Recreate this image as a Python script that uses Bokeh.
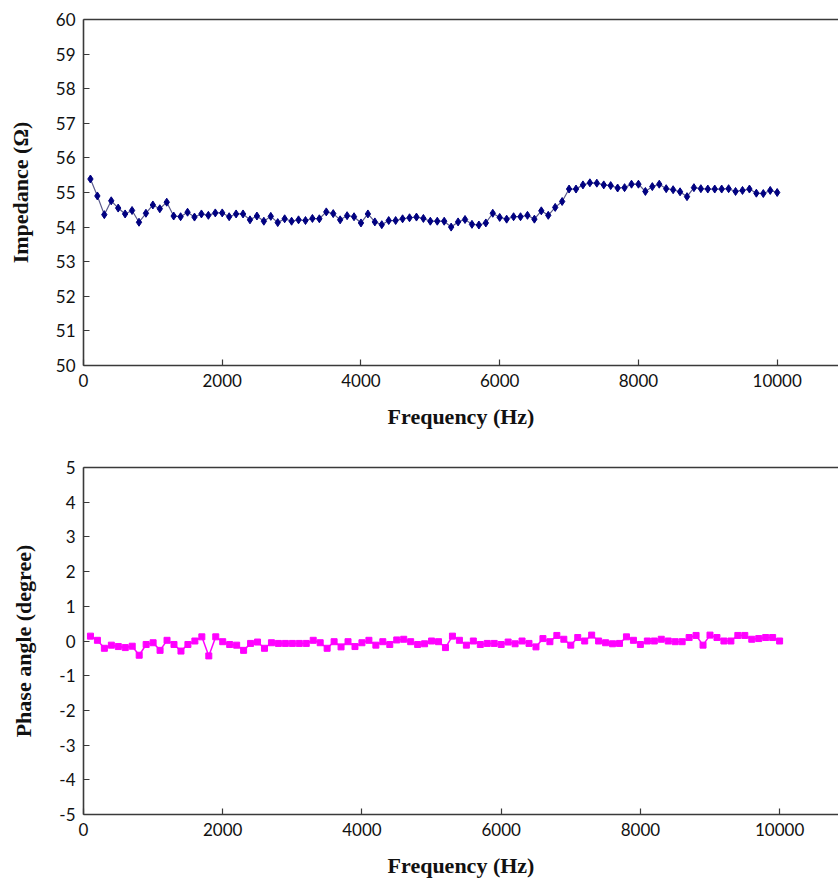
from bokeh.plotting import figure
from bokeh.layouts import column
from bokeh.models import LinearAxis, Range1d, FixedTicker
from bokeh.embed import file_html
from bokeh.resources import INLINE

freq = list(range(100, 10100, 100))

impedance = [
    55.39, 54.90, 54.36, 54.76, 54.55, 54.38, 54.48, 54.14, 54.40, 54.64,
    54.53, 54.72, 54.32, 54.30, 54.43, 54.29, 54.38, 54.34, 54.41, 54.41,
    54.30, 54.38, 54.38, 54.21, 54.32, 54.17, 54.31, 54.13, 54.24, 54.17,
    54.21, 54.19, 54.25, 54.24, 54.44, 54.39, 54.21, 54.33, 54.30, 54.12,
    54.38, 54.15, 54.07, 54.19, 54.19, 54.24, 54.27, 54.29, 54.25, 54.17,
    54.17, 54.17, 54.00, 54.15, 54.22, 54.08, 54.06, 54.12, 54.40, 54.28,
    54.23, 54.30, 54.30, 54.34, 54.23, 54.47, 54.34, 54.57, 54.74, 55.10,
    55.10, 55.22, 55.28, 55.27, 55.22, 55.20, 55.13, 55.14, 55.24, 55.24,
    55.03, 55.17, 55.24, 55.11, 55.08, 55.02, 54.88, 55.14, 55.11, 55.10,
    55.10, 55.10, 55.11, 55.03, 55.06, 55.10, 54.98, 54.97, 55.06, 55.00,
]

phase = [
    0.14, 0.02, -0.21, -0.12, -0.16, -0.19, -0.15, -0.41, -0.10, -0.05,
    -0.27, 0.02, -0.10, -0.29, -0.10, 0.00, 0.12, -0.43, 0.12, -0.02,
    -0.10, -0.12, -0.27, -0.07, -0.03, -0.21, -0.05, -0.07, -0.07, -0.07,
    -0.07, -0.07, 0.02, -0.05, -0.21, -0.02, -0.17, -0.02, -0.16, -0.05,
    0.02, -0.12, -0.02, -0.10, 0.03, 0.05, -0.02, -0.10, -0.08, 0.00,
    -0.02, -0.19, 0.14, 0.02, -0.12, 0.00, -0.10, -0.07, -0.07, -0.10,
    -0.03, -0.08, 0.00, -0.07, -0.17, 0.07, -0.02, 0.16, 0.05, -0.12,
    0.10, 0.00, 0.17, 0.00, -0.05, -0.08, -0.07, 0.12, 0.02, -0.10,
    0.00, 0.00, 0.05, 0.00, -0.02, -0.02, 0.10, 0.16, -0.12, 0.17,
    0.10, 0.00, 0.00, 0.16, 0.16, 0.05, 0.07, 0.10, 0.10, 0.00,
]

x_ticks = [0, 2000, 4000, 6000, 8000, 10000]
imp_ticks = list(range(50, 61))
phase_ticks = list(range(-5, 6))

AX_COLOR = "#3a3a3a"
TICK_FONT = "Lato"
TITLE_FONT = "Liberation Serif"


def style_axes(p, xlabel, ylabel, yticks):
    for ax in p.xaxis + p.yaxis:
        ax.axis_line_color = AX_COLOR
        ax.axis_line_width = 1.6
        ax.major_tick_line_color = AX_COLOR
        ax.major_tick_line_width = 1.2
        ax.major_tick_in = 6
        ax.major_tick_out = 0
        ax.minor_tick_line_color = None
        ax.major_label_text_font = TICK_FONT
        ax.major_label_text_font_size = "17px"
        ax.major_label_text_color = "#111111"
        ax.major_label_standoff = 8
        ax.axis_label_text_font = TITLE_FONT
        ax.axis_label_text_font_style = "bold"
        ax.axis_label_text_font_size = "22px"
        ax.axis_label_text_color = "#111111"
    p.xaxis.ticker = FixedTicker(ticks=x_ticks)
    p.yaxis.ticker = FixedTicker(ticks=yticks)
    p.yaxis.major_label_overrides = {t: str(t) for t in yticks}
    p.xaxis.axis_label = xlabel
    p.yaxis.axis_label = ylabel
    p.xaxis.axis_label_standoff = 14
    p.yaxis.axis_label_standoff = 20
    p.xgrid.grid_line_color = None
    p.ygrid.grid_line_color = None
    p.outline_line_color = None
    top = LinearAxis(
        ticker=FixedTicker(ticks=[]),
        major_tick_line_color=None,
        minor_tick_line_color=None,
        axis_line_color=AX_COLOR,
        axis_line_width=1.6,
        major_label_standoff=0,
    )
    p.add_layout(top, "above")


p1 = figure(
    width=838, height=447,
    x_range=Range1d(0, 10884), y_range=Range1d(50, 60),
    output_backend="svg", toolbar_location=None,
    min_border_left=83, min_border_right=0, min_border_top=19, min_border_bottom=82,
    background_fill_color="white", border_fill_color="white",
)
style_axes(p1, "Frequency (Hz)", "Impedance (Ω)", imp_ticks)
p1.line(freq, impedance, line_color="#5a5a8c", line_width=1.2)
p1.scatter(freq, impedance, marker="diamond", size=8,
           fill_color="#000080", line_color="#000080")

p2 = figure(
    width=838, height=436,
    x_range=Range1d(0, 10846), y_range=Range1d(-5, 5),
    output_backend="svg", toolbar_location=None,
    min_border_left=79, min_border_right=0, min_border_top=20, min_border_bottom=69,
    background_fill_color="white", border_fill_color="white",
)
style_axes(p2, "Frequency (Hz)", "Phase angle (degree)", phase_ticks)
p2.line(freq, phase, line_color="#ff00ff", line_width=1.5)
p2.scatter(freq, phase, marker="square", size=6,
           fill_color="#ff00ff", line_color="#ff00ff")

layout = column(p1, p2, spacing=0)

open("out.html", "w").write(file_html(layout, INLINE))
